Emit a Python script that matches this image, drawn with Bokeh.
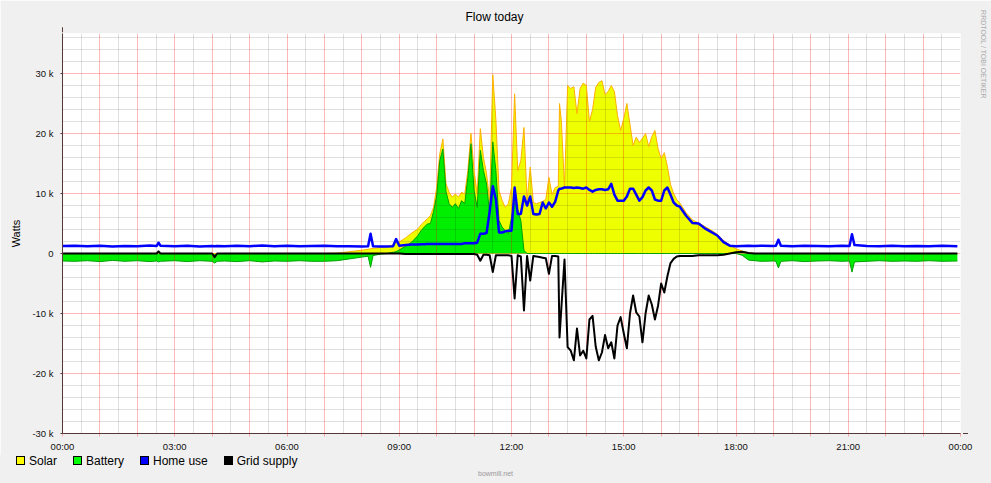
from math import pi
from bokeh.plotting import figure
from bokeh.layouts import column
from bokeh.models import (Range1d, FixedTicker, Label, Arrow, NormalHead, ColumnDataSource, Div)
from bokeh.embed import file_html
from bokeh.resources import INLINE

# ---------------- data (kW) ----------------
times = [
    "00:00", "00:20", "00:40", "01:00", "01:20", "01:40", "02:00", "02:20", "02:31", "02:34", "02:37", "03:00", "03:20", "03:40",
    "04:00", "04:04", "04:08", "04:20", "04:40", "05:00", "05:20", "05:40", "06:00", "06:20", "06:40", "07:00",
    "07:20", "07:40", "08:00", "08:10", "08:14", "08:18", "08:30", "08:40", "08:50", "08:55", "09:00", "09:10", "09:20",
    "09:30", "09:35", "09:40", "09:45", "09:50", "09:55", "10:00", "10:05", "10:10", "10:15", "10:20", "10:25",
    "10:30", "10:35", "10:40", "10:45", "10:50", "10:55", "11:00", "11:05", "11:10", "11:15", "11:20", "11:25",
    "11:30", "11:35", "11:40", "11:45", "11:50", "11:55", "12:00", "12:05", "12:10", "12:15", "12:20", "12:25",
    "12:30", "12:35", "12:40", "12:45", "12:50", "12:55", "13:00", "13:05", "13:10", "13:15", "13:17", "13:20", "13:25",
    "13:30", "13:35", "13:40", "13:45", "13:50", "13:55", "14:00", "14:05", "14:10", "14:15", "14:20", "14:25",
    "14:30", "14:35", "14:40", "14:45", "14:50", "14:55", "15:00", "15:05", "15:10", "15:15", "15:20", "15:25",
    "15:30", "15:35", "15:40", "15:45", "15:50", "15:55", "16:00", "16:05", "16:10", "16:15", "16:20", "16:25", "16:30",
    "16:40", "16:50", "17:00", "17:10", "17:20", "17:30", "17:40", "17:50", "18:00", "18:10", "18:20", "18:30",
    "18:40", "19:00", "19:04", "19:08", "19:12", "19:30", "19:50", "20:10",
    "20:30", "20:50", "21:02", "21:06", "21:10", "21:30", "21:50", "22:10", "22:30", "22:50", "23:10", "23:30", "23:55",
]

solar = [
    0, 0, 0, 0, 0, 0, 0, 0, 0, 0, 0, 0, 0, 0,
    0, 0, 0, 0, 0, 0, 0, 0, 0, 0, 0, 0,
    0.05, 0.3, 0.55, 0.7, 0.8, 0.85, 1.0, 1.2, 1.4, 1.9, 1.9, 2.6, 3.4,
    4.1, 4.8, 5.3, 5.8, 6.3, 7.7, 11.0, 16.6, 19.1, 11.6, 10.2, 9.4,
    9.9, 9.4, 10.2, 9.9, 13.8, 20.0, 13.8, 9.9, 20.8, 16.0, 13.3, 8.8,
    29.8, 22.2, 10.5, 8.8, 7.7, 8.3, 11.0, 26.6, 13.8, 15.5, 21.0, 8.8,
    14.4, 8.5, 8.3, 8.5, 8.7, 9.0, 12.7, 9.8, 11.0, 11.2, 25.0, 22.0, 11.0,
    28.0, 27.5, 27.8, 23.3, 27.5, 28.4, 28.0, 22.0, 24.0, 27.7, 28.5, 28.8,
    26.5, 27.0, 28.0, 27.0, 23.0, 20.5, 22.5, 25.0, 21.5, 18.0, 19.4, 18.5,
    19.2, 20.0, 17.8, 19.5, 20.5, 17.5, 15.8, 16.8, 14.5, 11.5, 10.0, 9.0, 8.4,
    6.8, 5.6, 5.1, 4.5, 3.9, 3.2, 2.2, 1.4, 0.8, 0.4, 0.1, 0,
    0, 0, 0, 0, 0, 0, 0, 0,
    0, 0, 0, 0, 0, 0, 0, 0, 0, 0, 0, 0, 0,
]

battery = [
    -1.25, -1.3, -1.2, -1.35, -1.15, -1.3, -1.2, -1.35, -1.25, -1.4, -1.3, -1.2, -1.35, -1.2,
    -1.3, -1.6, -1.3, -1.25, -1.35, -1.2, -1.4, -1.25, -1.3, -1.2, -1.3, -1.3,
    -1.2, -0.9, -0.6, -0.45, -2.3, -0.35, -0.1, 0.0, 0.2, 0.3, 0.6, 1.2, 1.9,
    3.0, 3.8, 4.4, 4.9, 5.0, 7.0, 9.6, 15.5, 17.4, 10.3, 8.3, 7.7,
    8.3, 7.5, 8.8, 8.3, 12.7, 18.3, 10.5, 7.7, 17.2, 13.8, 11.6, 6.6,
    18.6, 13.8, 5.5, 4.4, 3.8, 3.3, 6.0, 8.5, 7.2, 5.5, 0.5, 0,
    0, 0, 0, 0, 0, 0, 0, 0, 0, 0, 0, 0, 0,
    0, 0, 0, 0, 0, 0, 0, 0, 0, 0, 0, 0,
    0, 0, 0, 0, 0, 0, 0, 0, 0, 0, 0, 0,
    0, 0, 0, 0, 0, 0, 0, 0, 0, 0, 0, 0, 0,
    0, 0, 0, 0, 0, 0, 0, 0, 0, -0.3, -1.1, -1.2,
    -1.3, -1.25, -1.3, -2.4, -1.3, -1.2, -1.35, -1.25,
    -1.2, -1.3, -1.25, -3.1, -1.4, -1.3, -1.2, -1.3, -1.25, -1.3, -1.2, -1.3, -1.25,
]

home = [
    1.25, 1.3, 1.2, 1.3, 1.15, 1.25, 1.2, 1.35, 1.25, 1.8, 1.3, 1.2, 1.3, 1.15,
    1.25, 1.2, 1.25, 1.2, 1.3, 1.2, 1.35, 1.2, 1.3, 1.2, 1.25, 1.3,
    1.2, 1.2, 1.15, 1.2, 3.3, 1.2, 1.15, 1.15, 1.2, 2.4, 1.3, 1.4, 1.5,
    1.5, 1.55, 1.55, 1.6, 1.6, 1.6, 1.6, 1.6, 1.6, 1.6, 1.6, 1.6,
    1.6, 1.6, 1.6, 1.7, 1.7, 1.7, 1.7, 1.8, 3.3, 3.3, 3.4, 7.0,
    11.2, 9.0, 3.5, 3.5, 3.7, 3.8, 3.8, 11.0, 6.6, 6.6, 9.5, 8.0,
    9.5, 6.6, 6.5, 6.6, 8.5, 7.5, 8.5, 7.8, 8.6, 10.5, 10.8, 10.8, 11.0,
    11.0, 11.0, 10.9, 11.0, 10.9, 10.8, 11.0, 10.6, 10.3, 10.6, 10.7, 10.7,
    10.6, 10.7, 11.6, 9.8, 8.8, 8.8, 8.8, 9.5, 10.8, 10.8, 9.8, 8.8,
    9.4, 10.5, 11.0, 10.5, 9.0, 8.8, 8.8, 10.5, 11.0, 9.8, 8.5, 8.0, 7.8,
    6.3, 5.1, 5.0, 4.2, 3.6, 3.0, 1.9, 1.3, 1.2, 1.25, 1.3, 1.25,
    1.3, 1.25, 1.3, 2.3, 1.3, 1.2, 1.3, 1.25,
    1.2, 1.3, 1.25, 3.2, 1.4, 1.25, 1.2, 1.3, 1.2, 1.25, 1.2, 1.3, 1.2,
]

grid_supply = [
    0, 0, 0, 0, 0, 0, 0, 0, 0, 0.35, 0, 0, 0, 0,
    0, -0.6, 0, 0, 0, 0, 0, 0, 0, 0, 0, 0,
    0, 0, 0, 0, 0, 0, 0, 0, 0, 0, 0, -0.1, -0.1,
    -0.1, -0.1, -0.1, -0.1, -0.1, -0.1, -0.1, -0.1, -0.1, -0.1, -0.1, -0.1,
    -0.1, -0.1, -0.1, -0.1, -0.1, -0.1, -0.1, -0.2, -1.2, -0.2, -0.2, -0.3,
    -3.1, -0.3, -0.3, -0.3, -0.3, -0.3, -0.4, -7.5, -0.3, -0.5, -9.5, -0.4,
    -4.5, -0.4, -0.5, -0.6, -0.7, -0.8, -3.4, -0.4, -0.4, -0.5, -14.0, -9.0, -1.0,
    -15.6, -16.2, -17.8, -12.5, -17.0, -16.2, -17.5, -11.0, -10.4, -15.5, -17.8, -16.5,
    -13.6, -15.8, -14.8, -17.5, -12.0, -10.6, -13.3, -15.8, -10.0, -7.0, -9.8, -10.5,
    -14.8, -10.0, -7.0, -8.5, -11.0, -8.7, -5.0, -6.5, -3.8, -1.6, -0.9, -0.5, -0.4,
    -0.4, -0.4, -0.3, -0.3, -0.3, -0.3, -0.2, 0, 0.2, 0.3, 0.1, 0,
    0, 0, 0, 0, 0, 0, 0, 0,
    0, 0, 0, 0, 0, 0, 0, 0, 0, 0, 0, 0, 0,
]

series_names = ["Solar", "Battery", "Home use", "Grid supply"]
swatch_colors = ["#FFFF00", "#00FF00", "#0000FF", "#000000"]
x_tick_labels = ["00:00", "03:00", "06:00", "09:00", "12:00", "15:00", "18:00", "21:00", "00:00"]
y_tick_values = [-30, -20, -10, 0, 10, 20, 30]
y_tick_labels = ["-30 k", "-20 k", "-10 k", "0", "10 k", "20 k", "30 k"]

# ---------------- build ----------------
FONT = "Liberation Sans"
BG = "#F0F0F0"


def to_hours(t):
    hh, mm = t.split(":")
    return int(hh) + int(mm) / 60.0


hours = [to_hours(t) for t in times]
src = ColumnDataSource(dict(h=hours, solar=solar, battery=battery, home=home,
                            grid=grid_supply, zero=[0.0] * len(hours)))

p = figure(width=991, height=455, output_backend="svg", toolbar_location=None, title=None,
           x_range=Range1d(0, 24), y_range=Range1d(-30, 36.6667),
           min_border_left=62, min_border_right=31, min_border_top=33, min_border_bottom=22,
           background_fill_color="white", border_fill_color=BG, outline_line_color=None)

# areas below the grid
p.varea(x="h", y1="zero", y2="solar", source=src, fill_color="#EEFF00", level="image")
p.varea(x="h", y1="zero", y2="battery", source=src, fill_color="#00EE00", level="image")
# outlines and lines above the grid
p.line("h", "solar", source=src, line_color="#FFB000", line_width=1, line_join="round")
p.line("h", "battery", source=src, line_color="#00A000", line_width=1, line_join="round")
p.line("h", "home", source=src, line_color="#0000FF", line_width=2.5, line_join="round")
p.line("h", "grid", source=src, line_color="#000000", line_width=2, line_join="round")

# axes / ticks
hour_ticks = list(range(25))
p.xaxis.ticker = FixedTicker(ticks=hour_ticks, minor_ticks=[h + 0.5 for h in range(24)])
p.xaxis.major_label_overrides = {h: (x_tick_labels[h // 3] if h % 3 == 0 else "") for h in hour_ticks}
p.yaxis.ticker = FixedTicker(ticks=y_tick_values,
                             minor_ticks=[v for v in range(-30, 37, 2) if v % 10 != 0])
p.yaxis.major_label_overrides = {v: lab for v, lab in zip(y_tick_values, y_tick_labels)}

for ax in (p.xaxis[0], p.yaxis[0]):
    ax.axis_line_color = "#553838"
    ax.axis_line_width = 1
    ax.major_label_text_font = FONT
    ax.major_label_text_font_size = "9.5px"
    ax.major_label_text_color = "#111111"
    ax.minor_tick_out = 0
    ax.minor_tick_in = 0
    ax.major_tick_in = 0

p.xaxis.major_tick_out = 3
p.xaxis.major_tick_line_color = "#FF0000"
p.xaxis.major_tick_line_alpha = 0.3
p.xaxis.major_label_standoff = 4
p.yaxis.major_tick_out = 2
p.yaxis.major_tick_line_color = "#553838"
p.yaxis.major_label_standoff = 7

for g in (p.xgrid[0], p.ygrid[0]):
    g.grid_line_color = "#FF0000"
    g.grid_line_alpha = 0.28
    g.minor_grid_line_color = "#000000"
    g.minor_grid_line_alpha = 0.12

# axis arrows (side panels are not clipped to the frame)
p.add_layout(Arrow(end=NormalHead(size=5, fill_color="#8B1A1A", line_color="#8B1A1A"),
                   x_start=0, y_start=36.6667, x_end=0, y_end=37.7,
                   line_color="#553838", line_width=1), "left")
p.add_layout(Arrow(end=NormalHead(size=5, fill_color="#8B1A1A", line_color="#8B1A1A"),
                   x_start=24, y_start=-30, x_end=24.2, y_end=-30,
                   line_color="#553838", line_width=1), "right")

# texts (canvas units, in side panels so they are not clipped)
p.add_layout(Label(x=494, y=16, x_units="canvas", y_units="canvas", text="Flow today",
                   text_align="center", text_baseline="middle", text_font=FONT,
                   text_font_size="12px", text_color="#000000"), "above")
p.add_layout(Label(x=15, y=233, x_units="canvas", y_units="canvas", text="Watts", angle=pi / 2,
                   text_align="center", text_baseline="middle", text_font=FONT,
                   text_font_size="11px", text_color="#000000"), "left")
p.add_layout(Label(x=983, y=54, x_units="canvas", y_units="canvas", text="RRDTOOL / TOBI OETIKER",
                   angle=-pi / 2, text_align="center", text_baseline="middle", text_font=FONT,
                   text_font_size="7px", text_color="#AAAAAA"), "right")

# ---------------- legend strip below the chart (HTML) ----------------
entries = "".join(
    f'<span style="display:inline-block;box-sizing:border-box;width:9px;height:9px;'
    f'background:{c};border:1px solid #000;vertical-align:middle;margin-right:4px;'
    f'position:relative;top:-1px"></span>'
    f'<span style="margin-right:16px">{n}</span>'
    for n, c in zip(series_names, swatch_colors)
)
legend_html = (
    f'<div style="position:relative;width:991px;height:28px;background:{BG};'
    f'font-family:\'{FONT}\',sans-serif;color:#000">'
    f'<div style="position:absolute;left:16px;top:0;height:13px;line-height:13px;'
    f'font-size:12px;white-space:nowrap">{entries}</div>'
    f'<div style="position:absolute;left:0;top:15px;width:991px;text-align:center;'
    f'font-size:7px;line-height:8px;color:#999">bowmill.net</div>'
    f'</div>'
)
legend_div = Div(text=legend_html, width=991, height=28, margin=0,
                 styles={"background-color": BG})

open("out.html", "w").write(file_html(column(p, legend_div, spacing=0), INLINE))
